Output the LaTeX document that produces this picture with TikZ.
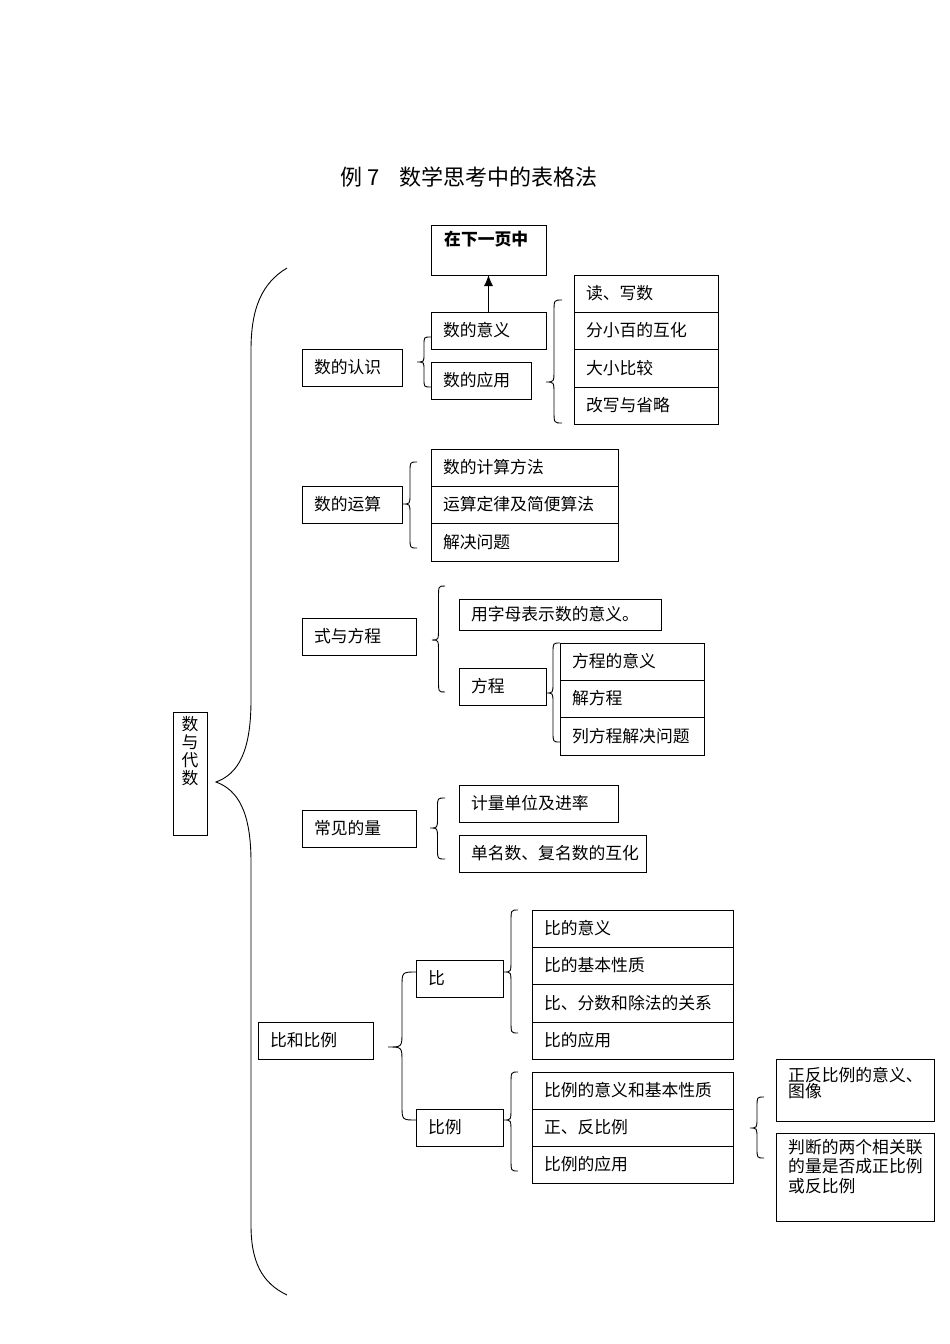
\documentclass[tikz,border=0pt]{standalone}
\usepackage{fontspec}
\newfontfamily\cjk{Noto Sans CJK SC}
\usetikzlibrary{arrows.meta}
\tikzset{
  bx/.style={draw, line width=0.9pt, anchor=north west, inner xsep=12pt, inner ysep=0pt, outer sep=0pt, align=left, font=\cjk\fontsize{16.8}{19}\selectfont},
  plain/.style={draw, line width=0.9pt, anchor=north west, inner sep=0pt, outer sep=0pt},
  txt/.style={anchor=north west, inner sep=0pt, align=left, font=\cjk\fontsize{16.8}{19}\selectfont},
  brc/.style={line width=0.9pt},
}
\newcommand\bxat[6]{%
  \pgfmathsetmacro\bxtw{#4-#2-24}%
  \pgfmathsetmacro\bxh{#5-#3}%
  \node[bx, text width=\bxtw pt, minimum height=\bxh pt] (#1) at (#2,#3) {#6};}
\newcommand\plainat[5]{%
  \pgfmathsetmacro\bxw{#4-#2}%
  \pgfmathsetmacro\bxh{#5-#3}%
  \node[plain, minimum width=\bxw pt, minimum height=\bxh pt] (#1) at (#2,#3) {};}
\newcommand\brc[6]{%
  \pgfmathsetmacro\brcm{(#1+#2)/2}%
  \draw[brc] (#2,#3) .. controls (\brcm,#3) .. (\brcm,{#3+#6}) -- (\brcm,{#4-#6}) .. controls (\brcm,#4) .. (#1,#4) .. controls (\brcm,#4) .. (\brcm,{#4+#6}) -- (\brcm,{#5-#6}) .. controls (\brcm,#5) .. (#2,#5);}
\begin{document}
\begin{tikzpicture}[x=1pt,y=-1pt]
\useasboundingbox (0,0) rectangle (950,1344);
\fill[white] (0,0) rectangle (950,1344);

% title
\node[anchor=west, inner sep=0pt, font=\cjk\fontsize{22}{24}\selectfont] (title) at (340,177) {例 7\hspace{20pt}数学思考中的表格法};

% root
\plainat{root}{173}{712}{207}{835}
\node[anchor=north, inner sep=0pt, align=center, font=\cjk\fontsize{16.8}{18}\selectfont] (roottxt) at (190,716) {数\\与\\代\\数};

% big brace
\draw[brc] (287,268) .. controls (262,283) and (251,308) .. (251,350) -- (251,700)
  .. controls (251,752) and (238,774) .. (216,782)
  .. controls (238,790) and (251,812) .. (251,862) -- (251,1225)
  .. controls (251,1262) and (262,1283) .. (287,1295);

% 数的认识
\plainat{nextpage}{431}{225}{546}{275}
\node[txt, font=\cjk\bfseries\fontsize{16.8}{19}\selectfont] (nexttxt) at (444,231) {在下一页中};
\bxat{meaning}{431}{312}{546}{349}{数的意义}
\bxat{app}{431}{362}{531}{399}{数的应用}
\bxat{recog}{302}{349}{402}{386}{数的认识}
\bxat{r1}{574}{275}{718}{312}{读、写数}
\bxat{r2}{574}{312}{718}{349}{分小百的互化}
\bxat{r3}{574}{349}{718}{387}{大小比较}
\bxat{r4}{574}{387}{718}{424}{改写与省略}
\draw[line width=0.9pt, -{Latex[length=11pt,width=9pt]}] (meaning.north) -- (nextpage.south);
\brc{417}{431}{337}{362}{387}{8}
\brc{546}{562}{300}{382}{423}{12}

% 数的运算
\bxat{ops}{302}{486}{402}{523}{数的运算}
\bxat{o1}{431}{449}{618}{486}{数的计算方法}
\bxat{o2}{431}{486}{618}{523}{运算定律及简便算法}
\bxat{o3}{431}{523}{618}{561}{解决问题}
\brc{403}{417}{462}{504}{548}{10}

% 式与方程
\bxat{eq}{302}{618}{416}{655}{式与方程}
\bxat{e1}{459}{599}{661}{630}{用字母表示数的意义。}
\bxat{fc}{459}{668}{546}{705}{方程}
\bxat{f1}{560}{643}{704}{680}{方程的意义}
\bxat{f2}{560}{680}{704}{717}{解方程}
\bxat{f3}{560}{717}{704}{755}{列方程解决问题}
\brc{432}{445}{586}{640}{692}{12}
\brc{546}{560}{643}{693}{742}{10}

% 常见的量
\bxat{qty}{302}{810}{416}{847}{常见的量}
\bxat{q1}{459}{785}{618}{822}{计量单位及进率}
\bxat{q2}{459}{835}{646}{872}{单名数、复名数的互化}
\brc{430}{445}{798}{828}{859}{10}

% 比和比例
\bxat{ratio}{258}{1022}{373}{1059}{比和比例}
\bxat{bi}{416}{960}{503}{997}{比}
\bxat{b1}{532}{910}{733}{947}{比的意义}
\bxat{b2}{532}{947}{733}{984}{比的基本性质}
\bxat{b3}{532}{984}{733}{1022}{比、分数和除法的关系}
\bxat{b4}{532}{1022}{733}{1059}{比的应用}
\bxat{bl}{416}{1109}{503}{1146}{比例}
\bxat{l1}{532}{1072}{733}{1109}{比例的意义和基本性质}
\bxat{l2}{532}{1109}{733}{1146}{正、反比例}
\bxat{l3}{532}{1146}{733}{1183}{比例的应用}
\plainat{p1}{776}{1059}{934}{1121}
\node[txt, font=\cjk\fontsize{16.8}{16.5}\selectfont] (p1txt) at (788,1067) {正反比例的意义、\\图像};
\plainat{p2}{776}{1133}{934}{1221}
\node[txt, font=\cjk\fontsize{16.8}{19.5}\selectfont] (p2txt) at (788,1139) {判断的两个相关联\\的量是否成正比例\\或反比例};
\brc{388}{416}{972}{1047}{1120}{15}
\brc{504}{518}{910}{972}{1033}{12}
\brc{504}{518}{1072}{1120}{1171}{12}
\brc{750}{764}{1097}{1128}{1158}{10}
\end{tikzpicture}
\end{document}
